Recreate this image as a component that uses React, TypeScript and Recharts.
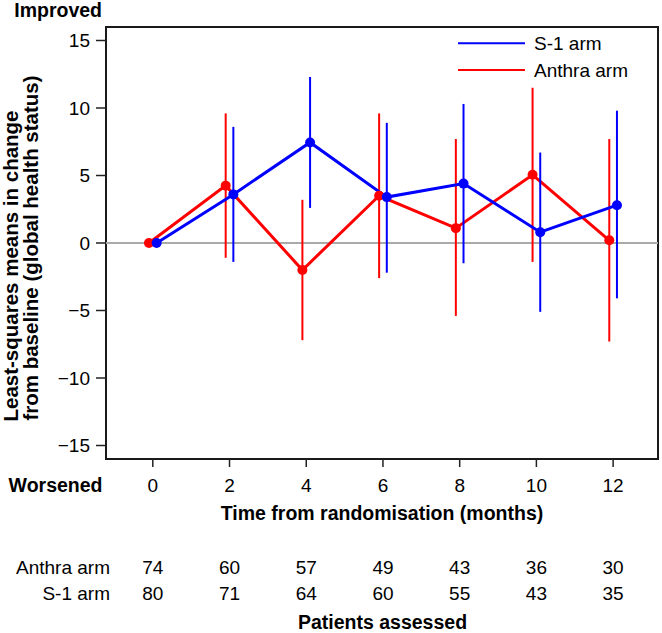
import {
  ComposedChart,
  Line,
  XAxis,
  YAxis,
  ErrorBar,
  ReferenceLine,
  ReferenceArea,
  Legend,
} from "recharts";

// months of assessment
const months = [0, 2, 4, 6, 8, 10, 12];

// S-1 arm: least-squares mean and 95% CI
const s1Mean = [0, 3.6, 7.45, 3.4, 4.4, 0.8, 2.8];
const s1Low = [0, -1.4, 2.6, -2.2, -1.5, -5.1, -4.1];
const s1High = [0, 8.6, 12.3, 8.9, 10.3, 6.7, 9.8];

// Anthra arm: least-squares mean and 95% CI
const anthraMean = [0, 4.25, -2.0, 3.5, 1.1, 5.05, 0.2];
const anthraLow = [0, -1.1, -7.2, -2.6, -5.4, -1.4, -7.3];
const anthraHigh = [0, 9.6, 3.2, 9.6, 7.7, 11.5, 7.7];

// patients assessed at each month
const anthraN = [74, 60, 57, 49, 43, 36, 30];
const s1N = [80, 71, 64, 60, 55, 43, 35];

const yTicks = [-15, -10, -5, 0, 5, 10, 15];

const X_DOMAIN: [number, number] = [-1.22, 13.17];
const Y_DOMAIN: [number, number] = [-16, 16];
const DODGE = 0.1; // small horizontal shift so the two arms don't overlap

const BLUE = "#0000ff";
const RED = "#ff0000";
const FONT = "'Liberation Sans', Arial, Helvetica, sans-serif";

const build = (mean: number[], lo: number[], hi: number[], shift: number) =>
  months.map((m, i) => ({
    t: m + shift,
    v: mean[i],
    err: [mean[i] - lo[i], hi[i] - mean[i]],
  }));

const s1Data = build(s1Mean, s1Low, s1High, DODGE);
const anthraData = build(anthraMean, anthraLow, anthraHigh, -DODGE);

const fmt = (v: number) => (v < 0 ? "\u2212" + Math.abs(v) : String(v));

function MonthTick(props: any) {
  const { x, payload } = props;
  const i = months.indexOf(payload.value);
  return (
    <g fontSize={19} fill="#000" textAnchor="middle">
      <text x={x} y={491.8}>{payload.value}</text>
      <text x={x} y={573.5}>{i >= 0 ? anthraN[i] : ""}</text>
      <text x={x} y={599.8}>{i >= 0 ? s1N[i] : ""}</text>
    </g>
  );
}

function ArmLegend() {
  return (
    <svg width={200} height={60} style={{ fontFamily: FONT }}>
      <line x1={3} x2={70} y1={13.3} y2={13.3} stroke={BLUE} strokeWidth={2} />
      <text x={79} y={20.2} fontSize={19} fill="#000">S-1 arm</text>
      <line x1={3} x2={70} y1={40} y2={40} stroke={RED} strokeWidth={2} />
      <text x={79} y={46.9} fontSize={19} fill="#000">Anthra arm</text>
    </svg>
  );
}

export default function App() {
  return (
    <div
      style={{
        position: "absolute",
        left: 0,
        top: 0,
        width: 662,
        height: 633,
        fontFamily: FONT,
        background: "#fff",
      }}
    >
      <ComposedChart
        width={662}
        height={633}
        margin={{ top: 27, right: 4, bottom: 0, left: 0 }}
      >
        <XAxis
          type="number"
          dataKey="t"
          domain={X_DOMAIN}
          ticks={months}
          allowDataOverflow
          height={174}
          axisLine={false}
          tickSize={8}
          tickLine={{ stroke: "#222", strokeWidth: 1.5 }}
          tick={<MonthTick />}
        />
        <YAxis
          type="number"
          domain={Y_DOMAIN}
          ticks={yTicks}
          allowDataOverflow
          width={106}
          axisLine={false}
          tickSize={10}
          tickMargin={6}
          tickLine={{ stroke: "#222", strokeWidth: 1.5 }}
          tick={{ fontSize: 19, fill: "#000" }}
          tickFormatter={fmt}
        />
        <ReferenceArea
          x1={X_DOMAIN[0]}
          x2={X_DOMAIN[1]}
          y1={Y_DOMAIN[0]}
          y2={Y_DOMAIN[1]}
          fill="none"
          stroke="#1a1a1a"
          strokeWidth={2}
          fillOpacity={0}
        />
        <ReferenceLine y={0} stroke="#aaaaaa" strokeWidth={2} />
        <Legend
          layout="vertical"
          align="center"
          verticalAlign="middle"
          content={<ArmLegend />}
          wrapperStyle={{ left: 455, top: 30, width: 200, height: 60 }}
        />
        <Line
          data={anthraData}
          dataKey="v"
          type="linear"
          stroke={RED}
          strokeWidth={3}
          dot={{ r: 5, fill: RED, stroke: RED, strokeWidth: 0 }}
          activeDot={false}
          isAnimationActive={false}
        >
          <ErrorBar dataKey="err" direction="y" width={0} stroke={RED} strokeWidth={2} />
        </Line>
        <Line
          data={s1Data}
          dataKey="v"
          type="linear"
          stroke={BLUE}
          strokeWidth={3}
          dot={{ r: 5, fill: BLUE, stroke: BLUE, strokeWidth: 0 }}
          activeDot={false}
          isAnimationActive={false}
        >
          <ErrorBar dataKey="err" direction="y" width={0} stroke={BLUE} strokeWidth={2} />
        </Line>
      </ComposedChart>
      <svg
        width={662}
        height={633}
        style={{ position: "absolute", left: 0, top: 0, pointerEvents: "none" }}
        fontFamily={FONT}
        fontWeight="bold"
        fill="#000"
      >
        <text x={102} y={17} fontSize={19.5} textAnchor="end">Improved</text>
        <text x={102.5} y={492} fontSize={19.5} textAnchor="end">Worsened</text>
        <text x={382} y={519.7} fontSize={19.5} textAnchor="middle">
          Time from randomisation (months)
        </text>
        <text x={382.5} y={629} fontSize={19.5} textAnchor="middle">Patients assessed</text>
        <text
          transform="translate(18,266) rotate(-90)"
          fontSize={20.5}
          textAnchor="middle"
        >
          Least-squares means in change
        </text>
        <text
          transform="translate(38,248) rotate(-90)"
          fontSize={20.5}
          textAnchor="middle"
        >
          from baseline (global health status)
        </text>
        <g fontWeight="normal" fontSize={19} textAnchor="end">
          <text x={110} y={573.5}>Anthra arm</text>
          <text x={110} y={599.8}>S-1 arm</text>
        </g>
      </svg>
    </div>
  );
}
